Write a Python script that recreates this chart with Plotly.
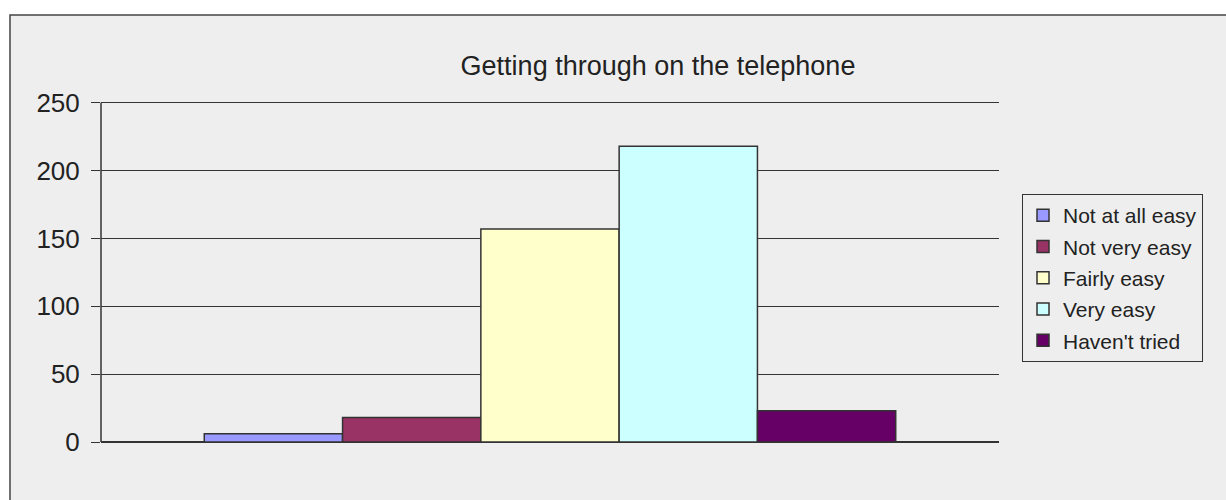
import plotly.graph_objects as go

title = "Getting through on the telephone"
series_names = ["Not at all easy", "Not very easy", "Fairly easy", "Very easy", "Haven't tried"]
series_values = [6, 18, 157, 218, 23]
series_colors = ["#9999FF", "#993366", "#FFFFCC", "#CCFFFF", "#660066"]
y_ticks = [0, 50, 100, 150, 200, 250]

FONT = "Liberation Sans, Arial, sans-serif"
fig = go.Figure()
for i, (n, v, c) in enumerate(zip(series_names, series_values, series_colors)):
    fig.add_trace(go.Bar(
        x=[""], y=[v], name=n, legendgroup=f"g{i}",
        marker=dict(color=c, line=dict(color="#333333", width=1.5)),
    ))

W, H = 1226, 500
L, R, T, B = 101, 227, 100, 58
pw, ph = W - L - R, H - T - B

def px_x(p):
    return (p - L) / pw

def px_y(p):
    return (H - B - p) / ph

fig.add_shape(type="rect", xref="paper", yref="paper",
              x0=px_x(10), x1=px_x(W + 20), y0=px_y(15), y1=px_y(H + 20),
              fillcolor="#EEEEEE", line=dict(color="#444444", width=1.5), layer="below")

fig.update_layout(
    width=W, height=H,
    margin=dict(l=L, r=R, t=T, b=B),
    paper_bgcolor="white",
    plot_bgcolor="rgba(0,0,0,0)",
    font=dict(family=FONT, color="#222222"),
    title=dict(text=title, x=(658) / W, xanchor="center", y=1 - 66 / H, yanchor="middle",
               font=dict(size=27, family=FONT, color="#222222")),
    barmode="group", bargap=0.23, bargroupgap=0,
    showlegend=True,
    legend=dict(x=px_x(1022), y=px_y(194), xanchor="left", yanchor="top",
                bgcolor="#EEEEEE", bordercolor="#333333", borderwidth=1,
                font=dict(size=21, family=FONT, color="#222222"),
                traceorder="grouped", tracegroupgap=1),
    xaxis=dict(showticklabels=False, showgrid=False, zeroline=False,
               showline=False, ticks=""),
    yaxis=dict(range=[0, 252], tickvals=y_ticks, showgrid=True, gridcolor="#333333",
               gridwidth=1.3, zeroline=True, zerolinecolor="#333333", zerolinewidth=2,
               showline=False, ticks="outside", ticklen=9, tickcolor="#333333", tickwidth=1.3,
               ticklabelstandoff=6,
               tickfont=dict(size=26, family=FONT, color="#222222")),
)

# y axis line spanning 0..250 (the axis extent in the reference)
fig.add_shape(type="line", xref="paper", yref="y", x0=0, x1=0, y0=y_ticks[0], y1=y_ticks[-1],
              line=dict(color="#333333", width=1.5))

fig.write_html("out.html")
